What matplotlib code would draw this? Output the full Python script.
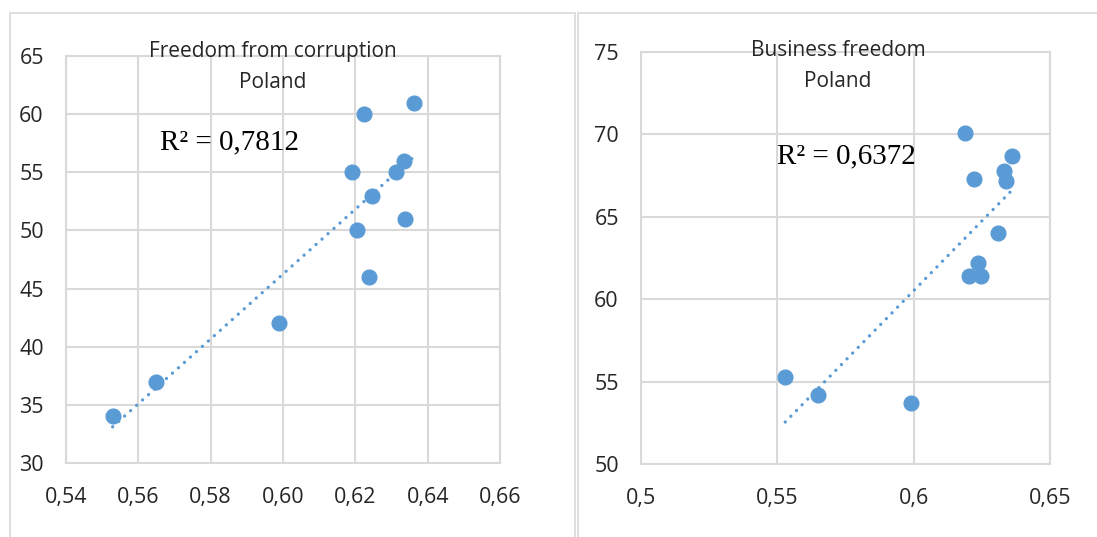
import numpy as np
import matplotlib.pyplot as plt
from matplotlib.patches import Rectangle

# HDI values (x) and index values (y)
x_corr = [0.5529, 0.5649, 0.5990, 0.6192, 0.6204, 0.6223, 0.6237, 0.6245, 0.6312, 0.6334, 0.6338, 0.6363]
y_corr = [34, 37, 42, 55, 50, 60, 46, 53, 55, 56, 51, 61]

x_bus = [0.5529, 0.5648, 0.5989, 0.6190, 0.6202, 0.6220, 0.6236, 0.6246, 0.6311, 0.6333, 0.6338, 0.6361]
y_bus = [55.3, 54.2, 53.7, 70.1, 61.4, 67.3, 62.2, 61.4, 64.0, 67.8, 67.2, 68.7]

r2_labels = ["R² = 0,7812", "R² = 0,6372"]
titles = ["Freedom from corruption\nPoland", "Business freedom\nPoland"]

xticks_corr = [0.54, 0.56, 0.58, 0.60, 0.62, 0.64, 0.66]
yticks_corr = [30, 35, 40, 45, 50, 55, 60, 65]
xticks_bus = [0.5, 0.55, 0.6, 0.65]
yticks_bus = [50, 55, 60, 65, 70, 75]

blue = "#5b9bd5"
grid = "#d9d9d9"
txt = "#262626"

plt.rcParams['font.family'] = ['Open Sans', 'DejaVu Sans']

fig = plt.figure(figsize=(10.97, 5.37), dpi=100)
W, H = 1097, 537

# chart frames
for x0, x1 in [(10, 575), (578, 1110)]:
    fig.add_artist(Rectangle((x0 / W, -0.05), (x1 - x0) / W, (H - 13) / H + 0.05,
                             transform=fig.transFigure, fill=False, ec=grid, lw=1.2))


def comma(v, nd):
    s = f"{v:.{nd}f}" if nd is not None else f"{v:g}"
    return s.replace(".", ",")


def draw(rect, xs, ys, xt, yt, xdec, r2, r2pos, title, tpos):
    ax = fig.add_axes(rect)
    ax.set_xlim(xt[0], xt[-1])
    ax.set_ylim(yt[0], yt[-1])
    ax.set_xticks(xt)
    ax.set_yticks(yt)
    ax.set_xticklabels([comma(v, xdec) for v in xt])
    ax.set_yticklabels([str(v) for v in yt])
    ax.grid(True, color=grid, lw=1.5)
    ax.set_axisbelow(True)
    for s in ax.spines.values():
        s.set_color(grid)
        s.set_linewidth(1.5)
    ax.tick_params(length=0, labelsize=15.5, colors=txt)
    ax.tick_params(axis='y', pad=16)
    ax.tick_params(axis='x', pad=17)
    ax.scatter(xs, ys, s=112, color=blue, zorder=3, clip_on=False)
    k, b = np.polyfit(xs, ys, 1)
    tx = np.array([min(xs), max(xs)])
    ax.plot(tx, k * tx + b, color=blue, lw=2.4, ls=(0, (0.01, 2.4)),
            dash_capstyle='round', zorder=2)
    fig.text(r2pos[0] / W, 1 - r2pos[1] / H, r2, family=['Liberation Serif'],
             fontsize=21, color='black', ha='center', va='center')
    fig.text(tpos[0] / W, 1 - tpos[1] / H, title, fontsize=15, color=txt,
             ha='center', va='center', linespacing=1.65)
    return ax


draw([66 / W, 1 - 463 / H, (500 - 66) / W, (463 - 56) / H], x_corr, y_corr,
     xticks_corr, yticks_corr, 2, r2_labels[0], (230, 142), titles[0], (273, 67))
draw([641 / W, 1 - 464 / H, (1050 - 641) / W, (464 - 52) / H], x_bus, y_bus,
     xticks_bus, yticks_bus, None, r2_labels[1], (846, 156), titles[1], (838, 66))

fig.savefig("out.png", dpi=100)
